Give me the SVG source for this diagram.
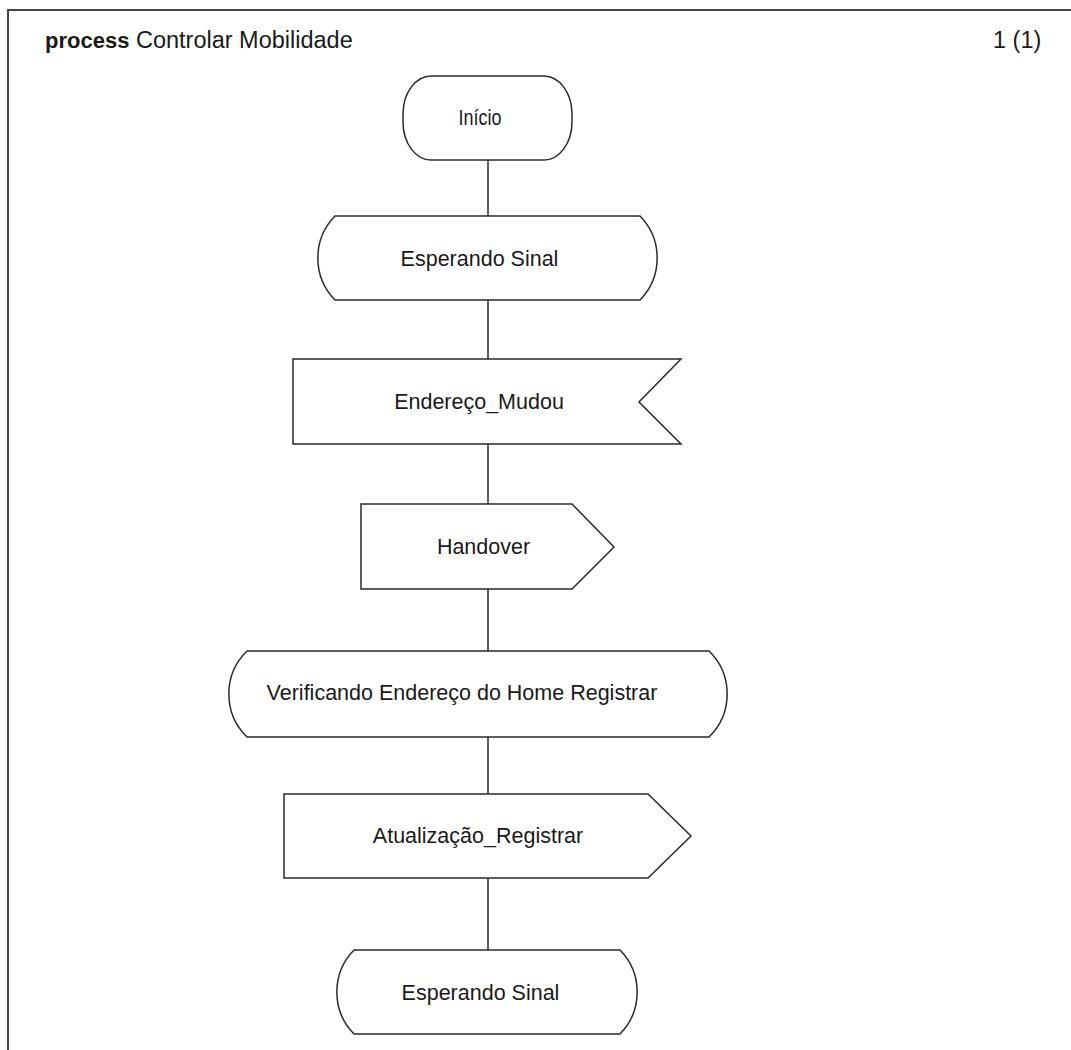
<svg xmlns="http://www.w3.org/2000/svg" width="1071" height="1050" viewBox="0 0 1071 1050">
  <style>
    .shape { fill: #ffffff; stroke: #2a2a2a; stroke-width: 1.5; }
    .wire { fill: none; stroke: #2a2a2a; stroke-width: 1.5; }
    .frame { fill: none; stroke: #444444; stroke-width: 2; }
    .lbl { font-family: "Liberation Sans", Arial, sans-serif; font-size: 21.5px; fill: #1a1a1a; text-anchor: middle; }
    .head { font-family: "Liberation Sans", Arial, sans-serif; font-size: 23.5px; fill: #1a1a1a; }
    .kw { font-weight: bold; font-size: 22px; }
  </style>
  <rect x="0" y="0" width="1071" height="1050" fill="#ffffff"/>

  <!-- page frame and heading -->
  <g id="frame">
    <path class="frame" d="M8,1050 V10 H1071"/>
    <text class="head" x="45" y="48"><tspan class="kw">process</tspan> Controlar Mobilidade</text>
    <text class="head" x="993" y="48">1 (1)</text>
  </g>

  <!-- flow lines -->
  <g id="connectors">
    <line class="wire" x1="488" y1="160" x2="488" y2="216"/>
    <line class="wire" x1="488" y1="300" x2="488" y2="359"/>
    <line class="wire" x1="488" y1="444" x2="488" y2="504"/>
    <line class="wire" x1="488" y1="589" x2="488" y2="651"/>
    <line class="wire" x1="488" y1="737" x2="488" y2="794"/>
    <line class="wire" x1="488" y1="878" x2="488" y2="950"/>
  </g>

  <!-- start -->
  <g id="inicio">
    <rect class="shape" x="403" y="76" width="169" height="84" rx="28" ry="38"/>
    <text class="lbl" x="480" y="125" textLength="43" lengthAdjust="spacingAndGlyphs">Início</text>
  </g>

  <!-- state -->
  <g id="esperando-sinal-1">
    <path class="shape" d="M335,216 H640 A60,60 0 0 1 640,300 H335 A60,60 0 0 1 335,216 Z"/>
    <text class="lbl" x="479.5" y="266">Esperando Sinal</text>
  </g>

  <!-- signal input -->
  <g id="endereco-mudou">
    <path class="shape" d="M293,359 H681 L639,402 L681,444 H293 Z"/>
    <text class="lbl" x="479" y="409">Endereço_Mudou</text>
  </g>

  <!-- signal output -->
  <g id="handover">
    <path class="shape" d="M361,504 H572 L614,547 L572,589 H361 Z"/>
    <text class="lbl" x="483.5" y="554">Handover</text>
  </g>

  <!-- state -->
  <g id="verificando-endereco">
    <path class="shape" d="M247,651 H709 A60,60 0 0 1 709,737 H247 A60,60 0 0 1 247,651 Z"/>
    <text class="lbl" x="462" y="700">Verificando Endereço do Home Registrar</text>
  </g>

  <!-- signal output -->
  <g id="atualizacao-registrar">
    <path class="shape" d="M284,794 H648 L691,836 L648,878 H284 Z"/>
    <text class="lbl" x="478" y="843">Atualização_Registrar</text>
  </g>

  <!-- state -->
  <g id="esperando-sinal-2">
    <path class="shape" d="M354,950 H620 A60,60 0 0 1 620,1034 H354 A60,60 0 0 1 354,950 Z"/>
    <text class="lbl" x="480.5" y="1000">Esperando Sinal</text>
  </g>
</svg>
